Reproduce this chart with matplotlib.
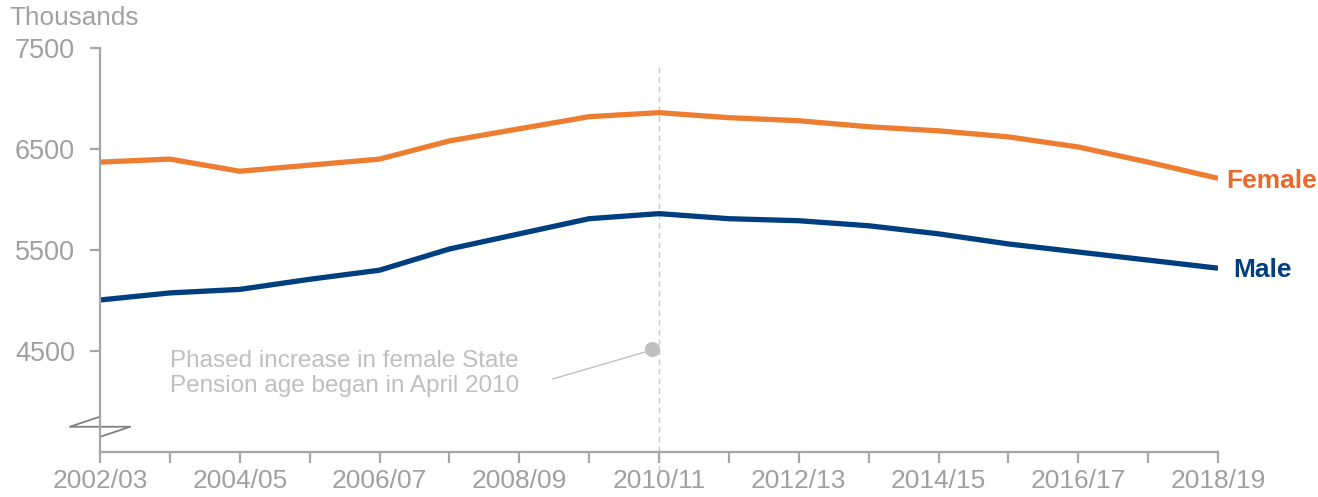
import numpy as np
import matplotlib.pyplot as plt
from matplotlib.transforms import blended_transform_factory

years = ["2002/03", "2003/04", "2004/05", "2005/06", "2006/07", "2007/08",
         "2008/09", "2009/10", "2010/11", "2011/12", "2012/13", "2013/14",
         "2014/15", "2015/16", "2016/17", "2017/18", "2018/19"]
female = [6370, 6400, 6280, 6340, 6400, 6580, 6700, 6820, 6860, 6810,
          6780, 6720, 6680, 6620, 6520, 6370, 6210]
male = [5005, 5075, 5110, 5210, 5300, 5510, 5660, 5810, 5860, 5810,
        5790, 5740, 5660, 5560, 5480, 5400, 5320]
yticks = [4500, 5500, 6500, 7500]

note = "Phased increase in female State\nPension age began in April 2010"
note_x, note_y = 8, 4520

plt.rcParams["font.family"] = ["Liberation Sans", "DejaVu Sans"]
grey = "#A6A6A6"
orange = "#ED7D31"
navy = "#003F7F"

fig = plt.figure(figsize=(13.18, 4.97), dpi=100)
ax = fig.add_axes([100 / 1318, 1 - 452 / 497, 1118 / 1318, 404 / 497])

x = np.arange(len(years))
ax.plot(x, female, color=orange, lw=3.8, solid_capstyle="butt")
ax.plot(x, male, color=navy, lw=3.8, solid_capstyle="butt")

ax.set_xlim(0, len(years) - 1)
ax.set_ylim(3500, 7500)
ax.set_yticks(yticks)
ax.set_xticks(x)
ax.set_xticklabels([y if i % 2 == 0 else "" for i, y in enumerate(years)])

for s in ["top", "right"]:
    ax.spines[s].set_visible(False)
for s in ["left", "bottom"]:
    ax.spines[s].set_color(grey)
    ax.spines[s].set_linewidth(1.6)
ax.tick_params(axis="both", colors=grey, labelcolor="#A0A0A0", width=1.6,
               labelsize=19)
ax.tick_params(axis="x", length=8, pad=4)
ax.tick_params(axis="y", length=7, pad=11, labelsize=19.5)

ax.text(-0.081, 1.045, "Thousands", transform=ax.transAxes, fontsize=18.8,
        color="#A0A0A0", ha="left", va="bottom")

# dashed marker for the 2010/11 change
ax.plot([note_x, note_x], [7310, 3270], color="#C8C8C8", lw=1, ls=(0, (4, 3)),
        clip_on=False, zorder=1)
ax.plot([note_x - 0.1], [note_y], "o", color="#C0C0C0", ms=10, zorder=3)
ax.plot([6.48, note_x - 0.2], [4223, note_y - 30], color="#C0C0C0", lw=1)
ax.text(1.0, 4505, note, fontsize=17.5, color="#BFBFBF", ha="left", va="top",
        linespacing=1.12)

# series labels
ax.text(len(years) - 1 + 0.12, female[-1] - 25, "Female", color="#E8692A",
        fontsize=19, fontweight="bold", va="center", ha="left", clip_on=False)
ax.text(len(years) - 1 + 0.22, male[-1] - 15, "Male", color=navy,
        fontsize=19, fontweight="bold", va="center", ha="left", clip_on=False)

# axis break symbol
tr = blended_transform_factory(ax.transAxes, ax.transData)
ax.plot([0, -0.027, 0.027, 0], [3850, 3750, 3750, 3650], color="#808080",
        lw=1.3, transform=tr, clip_on=False)

fig.savefig("out.png", dpi=100)
